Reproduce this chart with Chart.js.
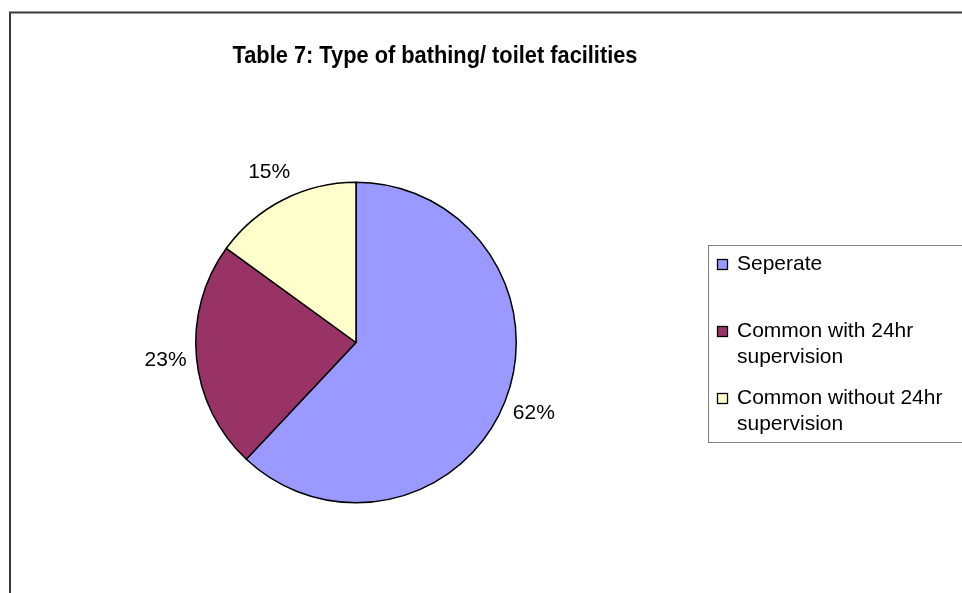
<!DOCTYPE html>
<html>
<head>
<meta charset="utf-8">
<script src="https://cdn.jsdelivr.net/npm/chart.js@4.4.1/dist/chart.umd.min.js"></script>
<style>
  html, body { margin: 0; padding: 0; background: #ffffff; }
  #wrap { position: relative; width: 962px; height: 593px; }
  canvas { display: block; }
</style>
</head>
<body>
<div id="wrap"><canvas id="c" width="962" height="593"></canvas></div>
<script>
const chartTitle = "Table 7: Type of bathing/ toilet facilities";
const categories = ["Seperate", "Common with 24hr supervision", "Common without 24hr supervision"];
const legendLines = [["Seperate"], ["Common with 24hr", "supervision"], ["Common without 24hr", "supervision"]];
const values = [62, 23, 15];
const percentLabels = ["62%", "23%", "15%"];
const colors = ["#9999FF", "#993366", "#FFFFCC"];

const FONT = "'Liberation Sans', Arial, sans-serif";

const decor = {
  id: "decor",
  beforeDraw(chart) {
    const ctx = chart.ctx;
    ctx.save();
    ctx.fillStyle = "#ffffff";
    ctx.fillRect(0, 0, chart.width, chart.height);
    // outer chart border
    ctx.strokeStyle = "#3a3a3a";
    ctx.lineWidth = 2;
    ctx.strokeRect(10, 12.5, 1000, 1000);
    ctx.restore();
  },
  afterDraw(chart) {
    const ctx = chart.ctx;
    ctx.save();
    // title
    ctx.fillStyle = "#000";
    ctx.font = "bold 24px " + FONT;
    ctx.textAlign = "center";
    ctx.textBaseline = "middle";
    const tw = ctx.measureText(chartTitle).width;
    const target = 405;
    ctx.save();
    ctx.translate(435, 56);
    ctx.scale(target / tw, 1);
    ctx.fillText(chartTitle, 0, 0);
    ctx.restore();

    // percent labels
    const meta = chart.getDatasetMeta(0);
    ctx.font = "21px " + FONT;
    ctx.fillStyle = "#000";
    meta.data.forEach((arc, i) => {
      const p = arc.getProps(["x", "y", "startAngle", "endAngle", "outerRadius"], true);
      const mid = (p.startAngle + p.endAngle) / 2;
      const d = p.outerRadius + 31;
      ctx.fillText(percentLabels[i], p.x + Math.cos(mid) * d, p.y + Math.sin(mid) * d);
    });

    // legend box
    ctx.strokeStyle = "#808080";
    ctx.lineWidth = 1;
    ctx.strokeRect(708.5, 245.5, 400, 197);
    ctx.font = "21px " + FONT;
    ctx.textAlign = "left";
    legendLines.forEach((lines, i) => {
      const y0 = 264 + i * 67;
      ctx.fillStyle = colors[i];
      ctx.fillRect(717, y0 - 5, 11, 11);
      ctx.strokeStyle = "#000";
      ctx.lineWidth = 1.3;
      ctx.strokeRect(717.5, y0 - 4.5, 10, 10);
      ctx.fillStyle = "#000";
      lines.forEach((t, j) => ctx.fillText(t, 737, y0 + j * 26));
    });
    ctx.restore();
  }
};

new Chart(document.getElementById("c"), {
  type: "pie",
  data: {
    labels: categories,
    datasets: [{
      data: values,
      backgroundColor: colors,
      borderColor: "#000000",
      borderWidth: 1.5
    }]
  },
  options: {
    responsive: false,
    animation: false,
    layout: { padding: { left: 195, right: 445, top: 181, bottom: 89 } },
    plugins: {
      legend: { display: false },
      title: { display: false },
      tooltip: { enabled: false }
    }
  },
  plugins: [decor]
});
</script>
</body>
</html>
